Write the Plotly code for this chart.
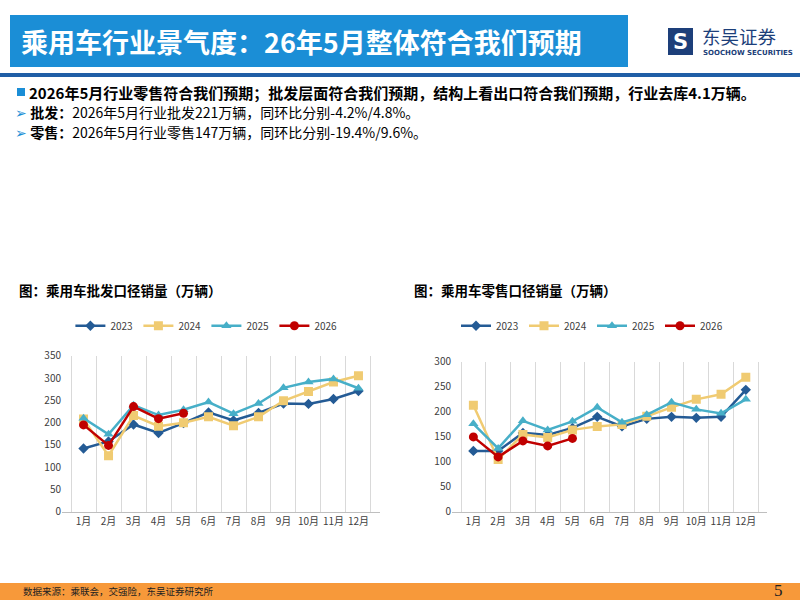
import plotly.graph_objects as go

months = ["1月", "2月", "3月", "4月", "5月", "6月", "7月", "8月", "9月", "10月", "11月", "12月"]
years = ["2023", "2024", "2025", "2026"]

# 乘用车批发口径销量（万辆）
wholesale_2023 = [142, 158, 196, 177, 199, 223, 205, 222, 243, 242, 253, 271]
wholesale_2024 = [208, 126, 216, 192, 200, 213, 193, 213, 249, 270, 291, 305]
wholesale_2025 = [210, 174, 239, 217, 229, 246, 220, 243, 278, 291, 298, 277]
wholesale_2026 = [195, 149, 236, 209, 221]

# 乘用车零售口径销量（万辆）
retail_2023 = [122, 122, 158, 154, 168, 190, 171, 186, 190, 188, 190, 244]
retail_2024 = [213, 105, 155, 149, 164, 171, 175, 191, 209, 225, 235, 269]
retail_2025 = [176, 127, 182, 164, 181, 209, 179, 194, 219, 205, 197, 225]
retail_2026 = [150, 110, 142, 132, 147]

colors = {"2023": "#245B95", "2024": "#F0CB72", "2025": "#47AFC8", "2026": "#C00000"}
symbols = {"2023": "diamond", "2024": "square", "2025": "triangle-up", "2026": "circle"}
msize = {"2023": 8, "2024": 9, "2025": 9, "2026": 9}

fig = go.Figure()

left = [wholesale_2023, wholesale_2024, wholesale_2025, wholesale_2026]
right = [retail_2023, retail_2024, retail_2025, retail_2026]

for yr, vals in zip(years, left):
    fig.add_trace(go.Scatter(
        x=months[:len(vals)], y=vals, name=yr, mode="lines+markers",
        line=dict(color=colors[yr], width=2.5),
        marker=dict(symbol=symbols[yr], size=msize[yr], color=colors[yr]),
        xaxis="x", yaxis="y", legend="legend"))
for yr, vals in zip(years, right):
    fig.add_trace(go.Scatter(
        x=months[:len(vals)], y=vals, name=yr, mode="lines+markers",
        line=dict(color=colors[yr], width=2.5),
        marker=dict(symbol=symbols[yr], size=msize[yr], color=colors[yr]),
        xaxis="x2", yaxis="y2", legend="legend2"))

tickfont = dict(family="Noto Sans CJK SC, Open Sans, sans-serif", size=10, color="#404040")
xcommon = dict(type="category", categoryorder="array", categoryarray=months,
               tickson="boundaries", showgrid=True, gridcolor="#D9D9D9", gridwidth=1,
               showline=True, linecolor="#BFBFBF", linewidth=1, ticks="", tickangle=0,
               tickfont=tickfont, zeroline=False, fixedrange=True, automargin=False)
ycommon = dict(showgrid=False, zeroline=False, showline=False, ticks="",
               tickfont=tickfont, dtick=50, fixedrange=True, automargin=False)

legend_common = dict(orientation="h", xanchor="center", yanchor="middle",
                     font=dict(family="Noto Sans CJK SC, Open Sans, sans-serif", size=10, color="#404040"),
                     bgcolor="rgba(0,0,0,0)", entrywidth=23, entrywidthmode="pixels", tracegroupgap=0)

fig.update_layout(
    width=800, height=600,
    margin=dict(l=0, r=0, t=0, b=0, autoexpand=False),
    paper_bgcolor="white", plot_bgcolor="white",
    font=dict(family="Noto Sans CJK SC, sans-serif"),
    xaxis=dict(domain=[0.0775, 0.475], anchor="y", **xcommon),
    yaxis=dict(domain=[0.1467, 0.4072], anchor="x", range=[0, 350], **ycommon),
    xaxis2=dict(domain=[0.565, 0.959], anchor="y2", **xcommon),
    yaxis2=dict(domain=[0.1467, 0.397], anchor="x2", range=[0, 300], **ycommon),
    legend=dict(x=0.258, y=0.457, **legend_common),
    legend2=dict(x=0.74, y=0.457, **legend_common),
    showlegend=True,
    hovermode=False,
)

shapes = [
    # header bar
    dict(type="rect", xref="paper", yref="paper", x0=10/800, x1=628/800, y0=1-67/600, y1=1-15/600,
         fillcolor="#1B8ED6", line=dict(width=0), layer="below"),
    # separator line
    dict(type="rect", xref="paper", yref="paper", x0=0, x1=1, y0=1-77/600, y1=1-73/600,
         fillcolor="#1F5EA6", line=dict(width=0), layer="below"),
    # bullet square
    dict(type="rect", xref="paper", yref="paper", x0=17/800, x1=25/800, y0=1-96/600, y1=1-88/600,
         fillcolor="#1B8ED6", line=dict(width=0)),
    # footer bar
    dict(type="rect", xref="paper", yref="paper", x0=0, x1=1, y0=0, y1=17/600,
         fillcolor="#F7993A", line=dict(width=0), layer="below"),
    # logo icon
    dict(type="rect", xref="paper", yref="paper", x0=668/800, x1=693/800, y0=1-55/600, y1=1-28/600,
         fillcolor="#1D3F7A", line=dict(width=0)),
]
fig.update_layout(shapes=shapes)

cjk = "Noto Sans CJK SC, sans-serif"
ann = []
def add(text, x, y, size, color="#000000", xanchor="left", yanchor="middle", family=cjk, align="left"):
    ann.append(dict(text=text, x=x/800, y=1-y/600, xref="paper", yref="paper",
                    xanchor=xanchor, yanchor=yanchor, showarrow=False, borderpad=0, align=align,
                    font=dict(family=family, size=size, color=color)))

add("<b>乘用车行业景气度：26年5月整体符合我们预期</b>", 20, 41, 27, "#FFFFFF")
add("<b>2026年5月行业零售符合我们预期；批发层面符合我们预期，结构上看出口符合我们预期，行业去库4.1万辆。</b>", 28, 92, 15, "#000000")
add("<span style='color:#1B8ED6'>➢</span> <b>批发：</b>2026年5月行业批发221万辆，同环比分别-4.2%/4.8%。",
    14, 112, 14, "#000000")
add("<span style='color:#1B8ED6'>➢</span> <b>零售：</b>2026年5月行业零售147万辆，同环比分别-19.4%/9.6%。",
    14, 131.5, 14, "#000000")
add("<b>图：乘用车批发口径销量（万辆）</b>", 18, 290, 13.5, "#000000")
add("<b>图：乘用车零售口径销量（万辆）</b>", 413, 290, 13.5, "#000000")
add("数据来源：乘联会，交强险，东吴证券研究所", 22, 591, 9.5, "#222222")
add("5", 784, 590, 17, "#222222", xanchor="right", family="Liberation Serif, serif")
add("<b>S</b>", 680.5, 42, 21, "#FFFFFF", xanchor="center", family="DejaVu Sans, sans-serif")
add("东吴证券", 701, 36, 18.5, "#1D3F7A")
add("<b>SOOCHOW SECURITIES</b>", 702, 53, 7, "#1D3F7A", family="DejaVu Sans, sans-serif")
fig.update_layout(annotations=ann)

fig.write_html("out.html", config={"displayModeBar": False, "staticPlot": True},
               post_script="document.body.style.margin='0';")
